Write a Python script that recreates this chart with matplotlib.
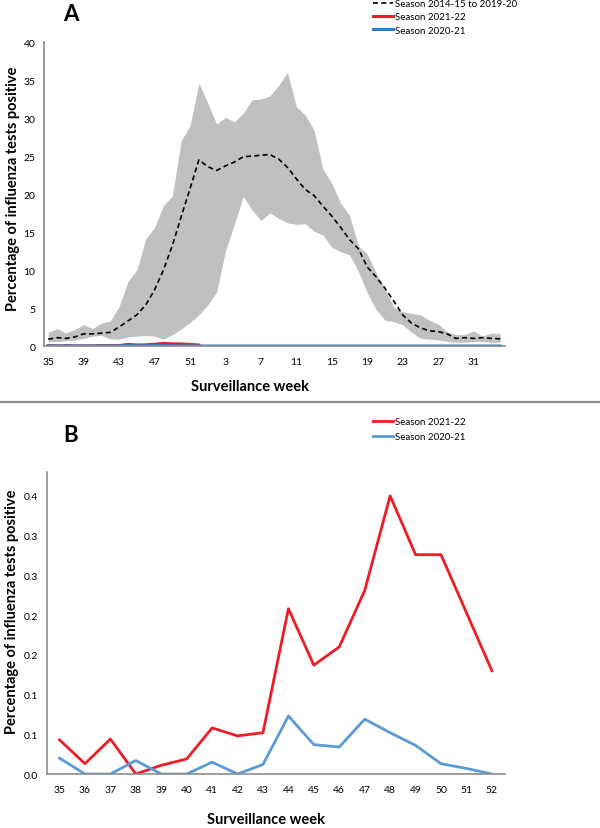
import matplotlib
matplotlib.use("Agg")
import matplotlib.pyplot as plt
from matplotlib.lines import Line2D

plt.rcParams['font.family'] = ['Lato', 'DejaVu Sans']

# panel A: weeks 35..52 then 1..34
weeks_a = [35, 36, 37, 38, 39, 40, 41, 42, 43, 44, 45, 46, 47, 48, 49, 50, 51, 52,
           1, 2, 3, 4, 5, 6, 7, 8, 9, 10, 11, 12, 13, 14, 15, 16, 17, 18, 19, 20,
           21, 22, 23, 24, 25, 26, 27, 28, 29, 30, 31, 32, 33, 34]
mean_hist = [0.9, 1.1, 1.0, 1.2, 1.6, 1.6, 1.7, 1.8, 2.5, 3.3, 4.1, 5.4, 7.4, 10.0,
             13.2, 17.0, 20.7, 24.5, 23.6, 23.1, 23.7, 24.2, 24.9, 25.0, 25.1, 25.2,
             24.6, 23.5, 22.0, 20.6, 19.8, 18.4, 17.1, 15.6, 14.0, 12.8, 10.4, 9.1,
             7.6, 5.9, 4.1, 3.0, 2.4, 2.0, 1.9, 1.6, 1.0, 1.1, 1.0, 1.1, 1.0, 0.95]
upper_hist = [1.8, 2.3, 1.7, 2.2, 2.8, 2.3, 3.0, 3.3, 5.2, 8.5, 10.0, 14.1, 15.6, 18.5,
              19.7, 27.0, 29.0, 34.6, 32.0, 29.2, 30.1, 29.5, 30.6, 32.4, 32.5, 32.9,
              34.3, 36.0, 31.5, 30.4, 28.4, 23.3, 21.4, 18.8, 17.2, 13.2, 12.1, 9.6,
              7.5, 5.1, 4.5, 4.3, 4.1, 3.4, 2.9, 1.9, 1.5, 1.5, 2.0, 1.3, 1.7, 1.6]
lower_hist = [0.6, 0.6, 0.7, 0.8, 1.0, 1.3, 1.4, 0.95, 0.9, 1.2, 1.3, 1.4, 1.3, 0.9,
              1.5, 2.2, 3.1, 4.1, 5.4, 7.1, 12.5, 16.0, 19.7, 17.9, 16.5, 17.5, 16.8,
              16.2, 16.0, 16.1, 15.1, 14.6, 13.0, 12.4, 12.0, 9.8, 7.0, 4.8, 3.4, 3.2,
              2.8, 1.8, 1.0, 0.9, 0.8, 0.6, 0.5, 0.5, 0.6, 0.6, 0.5, 0.5]
tick_weeks_a = [35, 39, 43, 47, 51, 3, 7, 11, 15, 19, 23, 27, 31]

# panel B: weeks 35..52
weeks_b = [35, 36, 37, 38, 39, 40, 41, 42, 43, 44, 45, 46, 47, 48, 49, 50, 51, 52]
s2122 = [0.043, 0.013, 0.044, 0.0, 0.011, 0.019, 0.058, 0.048, 0.052, 0.208, 0.137,
         0.160, 0.231, 0.350, 0.276, 0.276, 0.203, 0.130]
s2021 = [0.020, 0.0, 0.0, 0.017, 0.0, 0.0, 0.015, 0.0, 0.012, 0.073, 0.037, 0.034,
         0.069, 0.052, 0.036, 0.013, 0.007, 0.0]
s2021_rest = [0.0] * 34  # 2020-21 flat at zero for weeks 1..34
yticks_b = [0.0, 0.05, 0.10, 0.15, 0.20, 0.25, 0.30, 0.35]
yticklabels_b = ["0.0", "0.1", "0.1", "0.2", "0.2", "0.3", "0.3", "0.4"]

RED = '#ee1c25'
BLUE_A = '#2a7fd0'
BLUE_B = '#5b9bd5'
AXGRAY = '#8c8c8c'

fig = plt.figure(figsize=(6, 8.29), dpi=100)

# ---- panel A
ax1 = fig.add_axes([0.073, 0.5814, 0.768, 0.3667])
xa = list(range(len(weeks_a)))
ax1.fill_between(xa, lower_hist, upper_hist, color='#c0c0c0', lw=0)
ax1.plot(xa, mean_hist, color='black', lw=1.2, ls=(0, (3, 2)),
         label='Season 2014-15 to 2019-20')
ax1.plot(xa[:len(s2122)], s2122, color=RED, lw=2.2, label='Season 2021-22')
ax1.plot(xa, s2021 + s2021_rest, color=BLUE_A, lw=2.2, label='Season 2020-21')
ax1.set_xlim(-0.5, 51.5)
ax1.set_ylim(0, 40)
ax1.set_yticks(range(0, 41, 5))
ax1.set_xticks([weeks_a.index(w) for w in tick_weeks_a])
ax1.set_xticklabels([str(w) for w in tick_weeks_a])
ax1.set_xlabel('Surveillance week', fontsize=10.5, fontweight='bold')
ax1.set_ylabel('Percentage of influenza tests positive', fontsize=10.5, fontweight='bold')
ax1.xaxis.set_label_coords(0.447, -0.11)
ax1.yaxis.set_label_coords(-0.052, 0.52)
ax1.legend(loc='upper left', bbox_to_anchor=(373 / 600, 1.0),
           bbox_transform=fig.transFigure, frameon=False, fontsize=7,
           handlelength=2.1, handletextpad=0.15, labelspacing=0.45,
           borderpad=0, borderaxespad=0)
fig.text(0.105, 0.983, 'A', fontsize=16, fontweight='bold', va='center')

# ---- panel B
ax2 = fig.add_axes([0.078, 0.0651, 0.763, 0.3643])
ax2.plot(weeks_b, s2122, color=RED, lw=2.0, label='Season 2021-22')
ax2.plot(weeks_b, s2021, color=BLUE_B, lw=2.0, label='Season 2020-21')
ax2.set_xlim(34.5, 52.5)
ax2.set_ylim(0, 0.38)
ax2.set_xticks(weeks_b)
ax2.set_yticks(yticks_b)
ax2.set_yticklabels(yticklabels_b)
ax2.set_xlabel('Surveillance week', fontsize=10.5, fontweight='bold')
ax2.set_ylabel('Percentage of influenza tests positive', fontsize=10.5, fontweight='bold')
ax2.xaxis.set_label_coords(0.478, -0.126)
ax2.yaxis.set_label_coords(-0.06, 0.54)
ax2.legend(loc='upper left', bbox_to_anchor=(373 / 600, 1 - 418 / 829),
           bbox_transform=fig.transFigure, frameon=False, fontsize=7,
           handlelength=2.1, handletextpad=0.15, labelspacing=0.65,
           borderpad=0, borderaxespad=0)
fig.text(0.105, 1 - 435 / 829, 'B', fontsize=16, fontweight='bold', va='center')

for ax in (ax1, ax2):
    for side in ('top', 'right'):
        ax.spines[side].set_visible(False)
    for side in ('left', 'bottom'):
        ax.spines[side].set_color(AXGRAY)
        ax.spines[side].set_linewidth(1.2)
    ax.tick_params(length=0, labelsize=7.5, pad=6)
    ax.tick_params(axis='x', pad=8)

# separator between panels
fig.add_artist(Line2D([0, 1], [1 - 403 / 829] * 2, transform=fig.transFigure,
                      color=AXGRAY, lw=1.6))

fig.savefig('out.png', dpi=100)
